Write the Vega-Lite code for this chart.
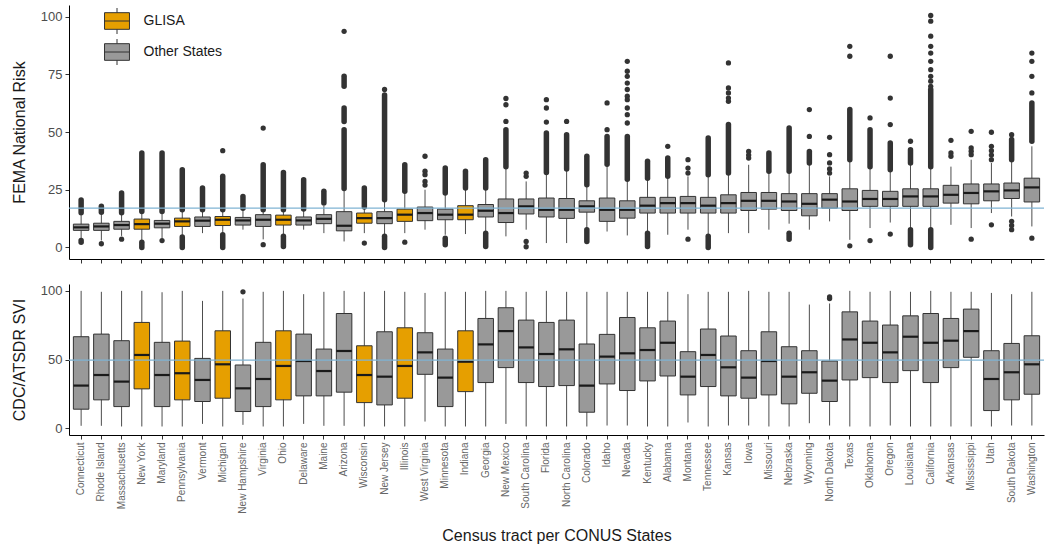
{
  "$schema": "https://vega.github.io/schema/vega-lite/v6.json",
  "padding": {"left": 10, "top": 5, "right": 0, "bottom": 2},
  "background": "white",
  "config": {
    "font": "Liberation Sans",
    "view": {"stroke": null},
    "axis": {"grid": false, "domainColor": "black", "domainWidth": 1, "tickColor": "#333333", "tickWidth": 1, "tickSize": 4, "labelColor": "#4d4d4d", "titleColor": "#1a1a1a", "titleFontWeight": "normal"},
    "concat": {"spacing": 20}
  },
  "resolve": {"scale": {"color": "independent"}, "legend": {"color": "independent"}},
  "datasets": {
    "fema": [
      {"state": "Connecticut", "group": "Other States", "q1": 7.4, "med": 8.7, "q3": 10.1, "lo": 3.5, "hi": 14},
      {"state": "Rhode Island", "group": "Other States", "q1": 7.4, "med": 9.1, "q3": 10.5, "lo": 3, "hi": 14.5},
      {"state": "Massachusetts", "group": "Other States", "q1": 7.9, "med": 9.7, "q3": 11.3, "lo": 5, "hi": 14.5},
      {"state": "New York", "group": "GLISA", "q1": 7.9, "med": 10.1, "q3": 12.3, "lo": 2.6, "hi": 15},
      {"state": "Maryland", "group": "Other States", "q1": 8.5, "med": 10.3, "q3": 11.7, "lo": 4, "hi": 15},
      {"state": "Pennsylvania", "group": "GLISA", "q1": 9.1, "med": 11.3, "q3": 12.7, "lo": 5, "hi": 16},
      {"state": "Vermont", "group": "Other States", "q1": 9.1, "med": 11.6, "q3": 13.2, "lo": 6.2, "hi": 16},
      {"state": "Michigan", "group": "GLISA", "q1": 9.5, "med": 12, "q3": 13.4, "lo": 6, "hi": 16},
      {"state": "New Hampshire", "group": "Other States", "q1": 9.7, "med": 11.7, "q3": 13, "lo": 7.7, "hi": 17},
      {"state": "Virginia", "group": "Other States", "q1": 9.1, "med": 12, "q3": 14.2, "lo": 3.5, "hi": 16.5},
      {"state": "Ohio", "group": "GLISA", "q1": 9.7, "med": 12, "q3": 14, "lo": 5, "hi": 16.5},
      {"state": "Delaware", "group": "Other States", "q1": 9.7, "med": 11.7, "q3": 13.2, "lo": 7.7, "hi": 16.5},
      {"state": "Maine", "group": "Other States", "q1": 10.3, "med": 12.4, "q3": 14.2, "lo": 6.2, "hi": 18},
      {"state": "Arizona", "group": "Other States", "q1": 7.2, "med": 9.4, "q3": 15.5, "lo": 2.6, "hi": 25},
      {"state": "Wisconsin", "group": "GLISA", "q1": 10.5, "med": 12.7, "q3": 14.9, "lo": 6.2, "hi": 17},
      {"state": "New Jersey", "group": "Other States", "q1": 10.3, "med": 12.7, "q3": 15.5, "lo": 5, "hi": 20},
      {"state": "Illinois", "group": "GLISA", "q1": 11.3, "med": 14.2, "q3": 16.6, "lo": 6.2, "hi": 24},
      {"state": "West Virginia", "group": "Other States", "q1": 11.6, "med": 14.9, "q3": 17.5, "lo": 7.7, "hi": 25},
      {"state": "Minnesota", "group": "Other States", "q1": 12, "med": 14.2, "q3": 16.6, "lo": 5.5, "hi": 23},
      {"state": "Indiana", "group": "GLISA", "q1": 12, "med": 14.2, "q3": 18.1, "lo": 5.8, "hi": 25},
      {"state": "Georgia", "group": "Other States", "q1": 13.2, "med": 15.9, "q3": 18.6, "lo": 6.5, "hi": 25},
      {"state": "New Mexico", "group": "Other States", "q1": 10.8, "med": 14.9, "q3": 21, "lo": 4.8, "hi": 34.4},
      {"state": "South Carolina", "group": "Other States", "q1": 14.5, "med": 17.8, "q3": 21, "lo": 7.7, "hi": 28.6},
      {"state": "Florida", "group": "Other States", "q1": 13.2, "med": 16.3, "q3": 21.4, "lo": 1.9, "hi": 32},
      {"state": "North Carolina", "group": "Other States", "q1": 12.6, "med": 16.3, "q3": 21.2, "lo": 1.9, "hi": 33.7},
      {"state": "Colorado", "group": "Other States", "q1": 15.3, "med": 17.8, "q3": 20.2, "lo": 8, "hi": 27},
      {"state": "Idaho", "group": "Other States", "q1": 11.3, "med": 16.3, "q3": 21.4, "lo": 6.9, "hi": 36},
      {"state": "Nevada", "group": "Other States", "q1": 12.7, "med": 16.3, "q3": 20.2, "lo": 5.2, "hi": 29.3},
      {"state": "Kentucky", "group": "Other States", "q1": 14.9, "med": 18.1, "q3": 21.7, "lo": 6.5, "hi": 30},
      {"state": "Alabama", "group": "Other States", "q1": 14.9, "med": 19.2, "q3": 21.7, "lo": 5.5, "hi": 30},
      {"state": "Montana", "group": "Other States", "q1": 14.9, "med": 19.2, "q3": 22.1, "lo": 7.7, "hi": 30.8},
      {"state": "Tennessee", "group": "Other States", "q1": 14.9, "med": 18.1, "q3": 21.7, "lo": 5.5, "hi": 31},
      {"state": "Kansas", "group": "Other States", "q1": 14.9, "med": 19.2, "q3": 22.8, "lo": 6.2, "hi": 32},
      {"state": "Iowa", "group": "Other States", "q1": 16, "med": 20.2, "q3": 23.8, "lo": 6.2, "hi": 35.8},
      {"state": "Missouri", "group": "Other States", "q1": 16.6, "med": 20.2, "q3": 23.8, "lo": 7.7, "hi": 33},
      {"state": "Nebraska", "group": "Other States", "q1": 16, "med": 19.9, "q3": 23.3, "lo": 10.3, "hi": 33},
      {"state": "Wyoming", "group": "Other States", "q1": 13.7, "med": 18.9, "q3": 23.3, "lo": 7.7, "hi": 36},
      {"state": "North Dakota", "group": "Other States", "q1": 17, "med": 20.7, "q3": 23.3, "lo": 11.3, "hi": 30.8},
      {"state": "Texas", "group": "Other States", "q1": 16, "med": 19.9, "q3": 25.4, "lo": 3.3, "hi": 38},
      {"state": "Oklahoma", "group": "Other States", "q1": 17.8, "med": 21, "q3": 24.7, "lo": 8.4, "hi": 35},
      {"state": "Oregon", "group": "Other States", "q1": 17.8, "med": 21, "q3": 24.3, "lo": 10.8, "hi": 33.7},
      {"state": "Louisiana", "group": "Other States", "q1": 17.8, "med": 22.1, "q3": 25.4, "lo": 8, "hi": 36},
      {"state": "California", "group": "Other States", "q1": 17.8, "med": 22.1, "q3": 25.4, "lo": 8, "hi": 35},
      {"state": "Arkansas", "group": "Other States", "q1": 19.2, "med": 22.8, "q3": 26.9, "lo": 9.8, "hi": 35},
      {"state": "Mississippi", "group": "Other States", "q1": 18.9, "med": 23.6, "q3": 27.5, "lo": 8.4, "hi": 38},
      {"state": "Utah", "group": "Other States", "q1": 20.2, "med": 24.3, "q3": 27.5, "lo": 14.9, "hi": 36.6},
      {"state": "South Dakota", "group": "Other States", "q1": 21.2, "med": 24.7, "q3": 27.9, "lo": 13.4, "hi": 37},
      {"state": "Washington", "group": "Other States", "q1": 19.7, "med": 26, "q3": 30, "lo": 9.1, "hi": 43.8}
    ],
    "fema_runs": [
      {"state": "Connecticut", "from": 15, "to": 20.5},
      {"state": "Connecticut", "from": 2.3, "to": 3},
      {"state": "Rhode Island", "from": 15.2, "to": 17.8},
      {"state": "Massachusetts", "from": 15, "to": 23.6},
      {"state": "New York", "from": 15.6, "to": 40.9},
      {"state": "New York", "from": 0, "to": 2.2},
      {"state": "Maryland", "from": 15.6, "to": 40.9},
      {"state": "Pennsylvania", "from": 16.3, "to": 33.7},
      {"state": "Pennsylvania", "from": 0, "to": 4.5},
      {"state": "Vermont", "from": 16.3, "to": 25.7},
      {"state": "Michigan", "from": 16.3, "to": 30.8},
      {"state": "Michigan", "from": 0, "to": 5.5},
      {"state": "New Hampshire", "from": 17, "to": 22.1},
      {"state": "Virginia", "from": 16.3, "to": 35.8},
      {"state": "Ohio", "from": 16.3, "to": 32.5},
      {"state": "Ohio", "from": 0.4, "to": 4.8},
      {"state": "Delaware", "from": 16.6, "to": 29.3},
      {"state": "Maine", "from": 19.2, "to": 24.3},
      {"state": "Arizona", "from": 25.5, "to": 51},
      {"state": "Arizona", "from": 54.6, "to": 60.4},
      {"state": "Arizona", "from": 69.8, "to": 74.1},
      {"state": "Wisconsin", "from": 17.5, "to": 25.7},
      {"state": "New Jersey", "from": 20.7, "to": 66},
      {"state": "New Jersey", "from": 0, "to": 4.8},
      {"state": "Illinois", "from": 24.3, "to": 35.8},
      {"state": "Minnesota", "from": 23.6, "to": 34.4},
      {"state": "Minnesota", "from": 1.2, "to": 4},
      {"state": "Indiana", "from": 25.7, "to": 33},
      {"state": "Georgia", "from": 25.7, "to": 38},
      {"state": "Georgia", "from": 0.4, "to": 6.2},
      {"state": "New Mexico", "from": 35, "to": 51},
      {"state": "Florida", "from": 32.5, "to": 49.6},
      {"state": "North Carolina", "from": 34, "to": 48.8},
      {"state": "Colorado", "from": 27.2, "to": 39.5},
      {"state": "Colorado", "from": 2.6, "to": 7.7},
      {"state": "Idaho", "from": 36, "to": 48},
      {"state": "Nevada", "from": 29.5, "to": 48},
      {"state": "Kentucky", "from": 30, "to": 37.3},
      {"state": "Kentucky", "from": 0.4, "to": 6.2},
      {"state": "Alabama", "from": 30.8, "to": 38.7},
      {"state": "Tennessee", "from": 31.5, "to": 47.4},
      {"state": "Tennessee", "from": 0, "to": 4.8},
      {"state": "Kansas", "from": 32.2, "to": 53.2},
      {"state": "Missouri", "from": 33, "to": 40.9},
      {"state": "Nebraska", "from": 33, "to": 51.7},
      {"state": "Nebraska", "from": 3.6, "to": 6.2},
      {"state": "Wyoming", "from": 36.6, "to": 41.6},
      {"state": "Texas", "from": 38, "to": 59.7},
      {"state": "Oklahoma", "from": 35, "to": 51},
      {"state": "Oregon", "from": 33.7, "to": 45.2},
      {"state": "Louisiana", "from": 36.6, "to": 42.3},
      {"state": "Louisiana", "from": 1.2, "to": 7.7},
      {"state": "California", "from": 35, "to": 68.4},
      {"state": "California", "from": 0, "to": 7.7},
      {"state": "South Dakota", "from": 38, "to": 46.7},
      {"state": "Washington", "from": 46, "to": 62.6}
    ],
    "fema_pts": [
      {"state": "Rhode Island", "value": 1.6},
      {"state": "Massachusetts", "value": 3.6},
      {"state": "Maryland", "value": 3},
      {"state": "Michigan", "value": 41.9},
      {"state": "Virginia", "value": 51.7},
      {"state": "Virginia", "value": 1.2},
      {"state": "Arizona", "value": 93.6},
      {"state": "Wisconsin", "value": 1.9},
      {"state": "New Jersey", "value": 68.4},
      {"state": "Illinois", "value": 2.3},
      {"state": "West Virginia", "value": 39.5},
      {"state": "West Virginia", "value": 33},
      {"state": "West Virginia", "value": 31.5},
      {"state": "West Virginia", "value": 28.6},
      {"state": "West Virginia", "value": 27},
      {"state": "South Carolina", "value": 30.8},
      {"state": "South Carolina", "value": 32.2},
      {"state": "South Carolina", "value": 2.6},
      {"state": "South Carolina", "value": 0.3},
      {"state": "New Mexico", "value": 54.6},
      {"state": "New Mexico", "value": 61.8},
      {"state": "New Mexico", "value": 64.5},
      {"state": "Florida", "value": 54.3},
      {"state": "Florida", "value": 60.4},
      {"state": "Florida", "value": 64},
      {"state": "North Carolina", "value": 54.6},
      {"state": "Idaho", "value": 51},
      {"state": "Idaho", "value": 62.6},
      {"state": "Nevada", "value": 53.9},
      {"state": "Nevada", "value": 57.5},
      {"state": "Nevada", "value": 60.4},
      {"state": "Nevada", "value": 64},
      {"state": "Nevada", "value": 65.5},
      {"state": "Nevada", "value": 68.4},
      {"state": "Nevada", "value": 71.2},
      {"state": "Nevada", "value": 74.1},
      {"state": "Nevada", "value": 76.3},
      {"state": "Nevada", "value": 80.6},
      {"state": "Alabama", "value": 43.8},
      {"state": "Montana", "value": 38},
      {"state": "Montana", "value": 34.4},
      {"state": "Montana", "value": 32.2},
      {"state": "Montana", "value": 3.6},
      {"state": "Kansas", "value": 63.3},
      {"state": "Kansas", "value": 64.7},
      {"state": "Kansas", "value": 66.9},
      {"state": "Kansas", "value": 69.1},
      {"state": "Kansas", "value": 79.9},
      {"state": "Iowa", "value": 38.7},
      {"state": "Iowa", "value": 40},
      {"state": "Iowa", "value": 41.6},
      {"state": "Wyoming", "value": 48.1},
      {"state": "Wyoming", "value": 59.7},
      {"state": "North Dakota", "value": 32.2},
      {"state": "North Dakota", "value": 34},
      {"state": "North Dakota", "value": 36.6},
      {"state": "North Dakota", "value": 40.2},
      {"state": "North Dakota", "value": 47.7},
      {"state": "Texas", "value": 82.8},
      {"state": "Texas", "value": 87.1},
      {"state": "Texas", "value": 0.7},
      {"state": "Oklahoma", "value": 56.1},
      {"state": "Oklahoma", "value": 3},
      {"state": "Oregon", "value": 53.2},
      {"state": "Oregon", "value": 64.7},
      {"state": "Oregon", "value": 82.8},
      {"state": "Oregon", "value": 5.8},
      {"state": "Louisiana", "value": 46},
      {"state": "California", "value": 69.8},
      {"state": "California", "value": 72},
      {"state": "California", "value": 74.1},
      {"state": "California", "value": 77},
      {"state": "California", "value": 80.6},
      {"state": "California", "value": 84.2},
      {"state": "California", "value": 87.1},
      {"state": "California", "value": 91.5},
      {"state": "California", "value": 98},
      {"state": "California", "value": 100.5},
      {"state": "Arkansas", "value": 39.5},
      {"state": "Arkansas", "value": 40.9},
      {"state": "Arkansas", "value": 46.4},
      {"state": "Mississippi", "value": 40.2},
      {"state": "Mississippi", "value": 41.7},
      {"state": "Mississippi", "value": 43.1},
      {"state": "Mississippi", "value": 50.3},
      {"state": "Mississippi", "value": 3.6},
      {"state": "Utah", "value": 38},
      {"state": "Utah", "value": 40},
      {"state": "Utah", "value": 41.9},
      {"state": "Utah", "value": 43.8},
      {"state": "Utah", "value": 49.9},
      {"state": "Utah", "value": 9.8},
      {"state": "South Dakota", "value": 48.8},
      {"state": "South Dakota", "value": 7.7},
      {"state": "South Dakota", "value": 9.5},
      {"state": "South Dakota", "value": 11.3},
      {"state": "Washington", "value": 66.9},
      {"state": "Washington", "value": 74.1},
      {"state": "Washington", "value": 80.6},
      {"state": "Washington", "value": 84.2},
      {"state": "Washington", "value": 4}
    ],
    "svi": [
      {"state": "Connecticut", "group": "Other States", "q1": 13.8, "med": 31, "q3": 66.6, "lo": 1.7, "hi": 100},
      {"state": "Rhode Island", "group": "Other States", "q1": 20.6, "med": 38.7, "q3": 68.5, "lo": 1.7, "hi": 99.3},
      {"state": "Massachusetts", "group": "Other States", "q1": 15.7, "med": 33.9, "q3": 63.7, "lo": 1.2, "hi": 100},
      {"state": "New York", "group": "GLISA", "q1": 28.6, "med": 53.3, "q3": 77, "lo": 1.2, "hi": 100},
      {"state": "Maryland", "group": "Other States", "q1": 15.7, "med": 38.7, "q3": 62.5, "lo": 1.2, "hi": 99},
      {"state": "Pennsylvania", "group": "GLISA", "q1": 20.6, "med": 40, "q3": 63.4, "lo": 1.2, "hi": 100},
      {"state": "Vermont", "group": "Other States", "q1": 19.4, "med": 35.1, "q3": 50.8, "lo": 3.1, "hi": 92.7},
      {"state": "Michigan", "group": "GLISA", "q1": 21.8, "med": 46.5, "q3": 70.9, "lo": 1.2, "hi": 100},
      {"state": "New Hampshire", "group": "Other States", "q1": 12.1, "med": 29, "q3": 46, "lo": 2.4, "hi": 94.4},
      {"state": "Virginia", "group": "Other States", "q1": 15.7, "med": 35.8, "q3": 62.5, "lo": 1.2, "hi": 99.3},
      {"state": "Ohio", "group": "GLISA", "q1": 20.6, "med": 45.3, "q3": 70.9, "lo": 1.2, "hi": 100},
      {"state": "Delaware", "group": "Other States", "q1": 23.5, "med": 48.9, "q3": 68.5, "lo": 3.1, "hi": 97.6},
      {"state": "Maine", "group": "Other States", "q1": 23.5, "med": 41.6, "q3": 57.6, "lo": 1.7, "hi": 99.3},
      {"state": "Arizona", "group": "Other States", "q1": 26.2, "med": 56.2, "q3": 83.5, "lo": 1.7, "hi": 100},
      {"state": "Wisconsin", "group": "GLISA", "q1": 18.6, "med": 38.7, "q3": 60, "lo": 1.2, "hi": 99.3},
      {"state": "New Jersey", "group": "Other States", "q1": 16.9, "med": 37.5, "q3": 70.2, "lo": 1.2, "hi": 100},
      {"state": "Illinois", "group": "GLISA", "q1": 21.8, "med": 45.3, "q3": 73.1, "lo": 1.2, "hi": 99.3},
      {"state": "West Virginia", "group": "Other States", "q1": 39.2, "med": 55.2, "q3": 69.5, "lo": 4.8, "hi": 98.5},
      {"state": "Minnesota", "group": "Other States", "q1": 15.7, "med": 36.8, "q3": 57.6, "lo": 1.2, "hi": 99.3},
      {"state": "Indiana", "group": "GLISA", "q1": 26.6, "med": 48.4, "q3": 70.9, "lo": 1.2, "hi": 99.3},
      {"state": "Georgia", "group": "Other States", "q1": 33.2, "med": 61, "q3": 79.9, "lo": 1.2, "hi": 100},
      {"state": "New Mexico", "group": "Other States", "q1": 44.1, "med": 70.7, "q3": 87.7, "lo": 3.1, "hi": 100},
      {"state": "South Carolina", "group": "Other States", "q1": 33.2, "med": 58.8, "q3": 78.7, "lo": 1.2, "hi": 99.3},
      {"state": "Florida", "group": "Other States", "q1": 30.3, "med": 54, "q3": 77, "lo": 1.2, "hi": 100},
      {"state": "North Carolina", "group": "Other States", "q1": 31, "med": 57.4, "q3": 78.7, "lo": 1.2, "hi": 99.3},
      {"state": "Colorado", "group": "Other States", "q1": 11.6, "med": 31, "q3": 61.3, "lo": 1.2, "hi": 99.3},
      {"state": "Idaho", "group": "Other States", "q1": 32.2, "med": 52.1, "q3": 68.3, "lo": 1.9, "hi": 99.3},
      {"state": "Nevada", "group": "Other States", "q1": 27.4, "med": 54.5, "q3": 80.6, "lo": 1.9, "hi": 99.3},
      {"state": "Kentucky", "group": "Other States", "q1": 34.4, "med": 56.9, "q3": 73.1, "lo": 1.2, "hi": 99.3},
      {"state": "Alabama", "group": "Other States", "q1": 38, "med": 62.2, "q3": 78, "lo": 1.2, "hi": 99.3},
      {"state": "Montana", "group": "Other States", "q1": 24.2, "med": 37.5, "q3": 55.7, "lo": 4.1, "hi": 97.6},
      {"state": "Tennessee", "group": "Other States", "q1": 30.3, "med": 53.3, "q3": 72.2, "lo": 1.2, "hi": 99.3},
      {"state": "Kansas", "group": "Other States", "q1": 23.5, "med": 44.3, "q3": 67.1, "lo": 1.9, "hi": 99.3},
      {"state": "Iowa", "group": "Other States", "q1": 21.8, "med": 36.8, "q3": 56.4, "lo": 1.9, "hi": 100},
      {"state": "Missouri", "group": "Other States", "q1": 24.2, "med": 48.9, "q3": 70.2, "lo": 1.2, "hi": 99.3},
      {"state": "Nebraska", "group": "Other States", "q1": 17.7, "med": 37.5, "q3": 59.3, "lo": 1.2, "hi": 99.3},
      {"state": "Wyoming", "group": "Other States", "q1": 25.4, "med": 40.7, "q3": 56.4, "lo": 3.6, "hi": 90},
      {"state": "North Dakota", "group": "Other States", "q1": 19.4, "med": 34.6, "q3": 48.9, "lo": 1.9, "hi": 90.8},
      {"state": "Texas", "group": "Other States", "q1": 35.1, "med": 64.6, "q3": 84.7, "lo": 1.2, "hi": 100},
      {"state": "Oklahoma", "group": "Other States", "q1": 36.8, "med": 62.2, "q3": 78, "lo": 1.2, "hi": 99.3},
      {"state": "Oregon", "group": "Other States", "q1": 33.2, "med": 55.2, "q3": 75.1, "lo": 1.9, "hi": 100},
      {"state": "Louisiana", "group": "Other States", "q1": 41.9, "med": 66.6, "q3": 81.8, "lo": 1.2, "hi": 99.3},
      {"state": "California", "group": "Other States", "q1": 33.2, "med": 62.2, "q3": 83.5, "lo": 1.2, "hi": 100},
      {"state": "Arkansas", "group": "Other States", "q1": 44.1, "med": 63.7, "q3": 79.9, "lo": 1.2, "hi": 99.3},
      {"state": "Mississippi", "group": "Other States", "q1": 51.6, "med": 70.7, "q3": 86.7, "lo": 1.2, "hi": 99.3},
      {"state": "Utah", "group": "Other States", "q1": 12.8, "med": 35.8, "q3": 56.4, "lo": 1.2, "hi": 98.5},
      {"state": "South Dakota", "group": "Other States", "q1": 20.6, "med": 40.7, "q3": 61.7, "lo": 1.9, "hi": 97.6},
      {"state": "Washington", "group": "Other States", "q1": 24.7, "med": 46.5, "q3": 67.3, "lo": 1.9, "hi": 99.3}
    ],
    "svi_pts": [
      {"state": "New Hampshire", "value": 99.3},
      {"state": "North Dakota", "value": 94.4},
      {"state": "North Dakota", "value": 95.6}
    ]
  },
  "vconcat": [
    {
      "width": 975,
      "height": 254,
      "layer": [
        {
          "data": {"name": "fema"},
          "mark": {"type": "rule", "color": "#4d4d4d", "strokeWidth": 1},
          "encoding": {
            "x": {"field": "state", "type": "nominal", "title": null, "scale": {"type": "band", "domain": ["Connecticut","Rhode Island","Massachusetts","New York","Maryland","Pennsylvania","Vermont","Michigan","New Hampshire","Virginia","Ohio","Delaware","Maine","Arizona","Wisconsin","New Jersey","Illinois","West Virginia","Minnesota","Indiana","Georgia","New Mexico","South Carolina","Florida","North Carolina","Colorado","Idaho","Nevada","Kentucky","Alabama","Montana","Tennessee","Kansas","Iowa","Missouri","Nebraska","Wyoming","North Dakota","Texas","Oklahoma","Oregon","Louisiana","California","Arkansas","Mississippi","Utah","South Dakota","Washington"], "paddingInner": 0, "paddingOuter": 0.1}, "axis": {"labels": false, "title": null}},
            "y": {"field": "lo", "type": "quantitative", "title": "FEMA National Risk", "scale": {"domain": [-5, 105], "nice": false, "zero": false}, "axis": {"values": [0, 25, 50, 75, 100], "labelFontSize": 13, "labelPadding": 3, "minExtent": 30, "maxExtent": 30, "titleFontSize": 16, "titlePadding": 12}},
            "y2": {"field": "hi"}
          }
        },
        {
          "data": {"name": "fema_runs"},
          "mark": {"type": "rule", "color": "#333333", "strokeWidth": 5.5, "strokeCap": "round"},
          "encoding": {
            "x": {"field": "state", "type": "nominal", "title": null},
            "y": {"field": "from", "type": "quantitative", "title": "FEMA National Risk"},
            "y2": {"field": "to"}
          }
        },
        {
          "data": {"name": "fema_pts"},
          "mark": {"type": "circle", "color": "#333333", "size": 28, "opacity": 1},
          "encoding": {
            "x": {"field": "state", "type": "nominal", "title": null},
            "y": {"field": "value", "type": "quantitative", "title": "FEMA National Risk"}
          }
        },
        {
          "data": {"name": "fema"},
          "mark": {"type": "bar", "size": 15.5, "stroke": "#333333", "strokeWidth": 1},
          "encoding": {
            "x": {"field": "state", "type": "nominal", "title": null},
            "y": {"field": "q1", "type": "quantitative", "title": "FEMA National Risk"},
            "y2": {"field": "q3"},
            "color": {"field": "group", "type": "nominal", "scale": {"domain": ["GLISA", "Other States"], "range": ["#E69F00", "#999999"]}, "legend": {"orient": "none", "legendX": 34.5, "legendY": 2.5, "title": null, "padding": 0, "symbolType": "M-0.96,-0.64H0.96V0.64H-0.96Z M-0.96,0H0.96 M0,-0.64V-1 M0,0.64V1", "symbolSize": 676, "symbolStrokeColor": "#333333", "symbolStrokeWidth": 1, "symbolOpacity": 1, "labelFontSize": 14, "labelColor": "#1a1a1a", "labelOffset": 13, "rowPadding": 0}}
          }
        },
        {
          "data": {"name": "fema"},
          "mark": {"type": "tick", "color": "#1a1a1a", "thickness": 2.2, "size": 15.5, "opacity": 1},
          "encoding": {
            "x": {"field": "state", "type": "nominal", "title": null},
            "y": {"field": "med", "type": "quantitative", "title": "FEMA National Risk"}
          }
        },
        {
          "data": {"values": [{"ref": 17}]},
          "mark": {"type": "rule", "color": "#7fb3d3", "strokeWidth": 1.3},
          "encoding": {
            "y": {"field": "ref", "type": "quantitative", "title": "FEMA National Risk"}
          }
        }
      ]
    },
    {
      "width": 975,
      "height": 151,
      "layer": [
        {
          "data": {"name": "svi"},
          "mark": {"type": "rule", "color": "#4d4d4d", "strokeWidth": 1},
          "encoding": {
            "x": {"field": "state", "type": "nominal", "title": "Census tract per CONUS States", "scale": {"type": "band", "domain": ["Connecticut","Rhode Island","Massachusetts","New York","Maryland","Pennsylvania","Vermont","Michigan","New Hampshire","Virginia","Ohio","Delaware","Maine","Arizona","Wisconsin","New Jersey","Illinois","West Virginia","Minnesota","Indiana","Georgia","New Mexico","South Carolina","Florida","North Carolina","Colorado","Idaho","Nevada","Kentucky","Alabama","Montana","Tennessee","Kansas","Iowa","Missouri","Nebraska","Wyoming","North Dakota","Texas","Oklahoma","Oregon","Louisiana","California","Arkansas","Mississippi","Utah","South Dakota","Washington"], "paddingInner": 0, "paddingOuter": 0.1}, "axis": {"labelAngle": -90, "labelFontSize": 10, "labelColor": "#666666", "labelPadding": 3, "titleFontSize": 16, "titlePadding": 14}},
            "y": {"field": "lo", "type": "quantitative", "title": "CDC/ATSDR SVI", "scale": {"domain": [-5, 105], "nice": false, "zero": false}, "axis": {"values": [0, 25, 50, 75, 100], "labelFontSize": 13, "labelPadding": 3, "minExtent": 30, "maxExtent": 30, "titleFontSize": 16, "titlePadding": 12}},
            "y2": {"field": "hi"}
          }
        },
        {
          "data": {"name": "svi_pts"},
          "mark": {"type": "circle", "color": "#333333", "size": 28, "opacity": 1},
          "encoding": {
            "x": {"field": "state", "type": "nominal", "title": "Census tract per CONUS States"},
            "y": {"field": "value", "type": "quantitative", "title": "CDC/ATSDR SVI"}
          }
        },
        {
          "data": {"name": "svi"},
          "mark": {"type": "bar", "size": 15.5, "stroke": "#333333", "strokeWidth": 1},
          "encoding": {
            "x": {"field": "state", "type": "nominal", "title": "Census tract per CONUS States"},
            "y": {"field": "q1", "type": "quantitative", "title": "CDC/ATSDR SVI"},
            "y2": {"field": "q3"},
            "color": {"field": "group", "type": "nominal", "scale": {"domain": ["GLISA", "Other States"], "range": ["#E69F00", "#999999"]}, "legend": null}
          }
        },
        {
          "data": {"name": "svi"},
          "mark": {"type": "tick", "color": "#1a1a1a", "thickness": 2.2, "size": 15.5, "opacity": 1},
          "encoding": {
            "x": {"field": "state", "type": "nominal", "title": "Census tract per CONUS States"},
            "y": {"field": "med", "type": "quantitative", "title": "CDC/ATSDR SVI"}
          }
        },
        {
          "data": {"values": [{"ref": 49.5}]},
          "mark": {"type": "rule", "color": "#7fb3d3", "strokeWidth": 1.3},
          "encoding": {
            "y": {"field": "ref", "type": "quantitative", "title": "CDC/ATSDR SVI"}
          }
        }
      ]
    }
  ]
}
